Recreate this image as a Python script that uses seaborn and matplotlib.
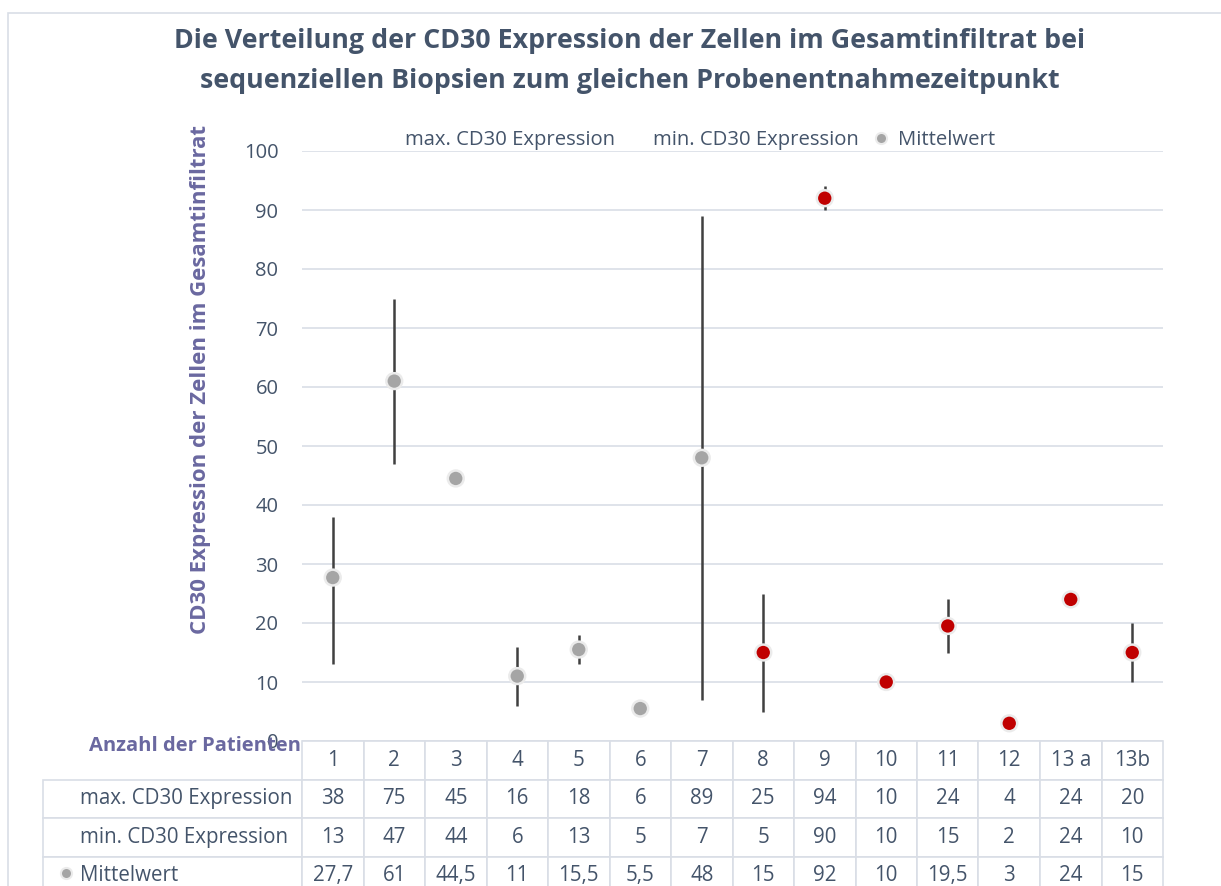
import matplotlib
matplotlib.use('Agg')
import matplotlib.pyplot as plt
import seaborn as sns
import pandas as pd
from matplotlib.lines import Line2D
from matplotlib.patches import Rectangle
from matplotlib.table import Table

# Werte aus der Tabelle unter dem Diagramm
patienten = ['1', '2', '3', '4', '5', '6', '7', '8', '9', '10', '11', '12', '13 a', '13b']
max_cd30 = [38, 75, 45, 16, 18, 6, 89, 25, 94, 10, 24, 4, 24, 20]
min_cd30 = [13, 47, 44, 6, 13, 5, 7, 5, 90, 10, 15, 2, 24, 10]
mittelwert = [27.7, 61, 44.5, 11, 15.5, 5.5, 48, 15, 92, 10, 19.5, 3, 24, 15]
gruppe = ['grau'] * 7 + ['rot'] * 7
zeilen = ['max. CD30 Expression', 'min. CD30 Expression', 'Mittelwert']

textfarbe = '#44546A'
lila = '#6A68A0'
gitter = '#D9DEE6'

sns.set_theme(style='white')
plt.rcParams['font.family'] = ['Open Sans', 'DejaVu Sans']

W, H = 1221, 886
fig = plt.figure(figsize=(W / 100, H / 100), dpi=100)
ax = fig.add_axes([302 / W, 1 - 741 / H, 861 / W, 590 / H])

df = pd.DataFrame({'pos': range(len(patienten)), 'mittel': mittelwert,
                   'max': max_cd30, 'min': min_cd30, 'gruppe': gruppe})

ax.vlines(df['pos'], df['min'], df['max'], color='#404040', lw=1.8, zorder=2)
sns.scatterplot(data=df, x='pos', y='mittel', hue='gruppe',
                palette={'grau': '#A5A5A5', 'rot': '#C00000'},
                s=130, edgecolor='#EBEBEB', linewidth=1.8,
                legend=False, zorder=3, ax=ax)

ax.set_xlim(-0.5, len(patienten) - 0.5)
ax.set_ylim(0, 100)
ax.set_yticks(range(0, 101, 10))
ax.set_xticks([])
ax.set_xlabel('')
ax.yaxis.grid(True, color=gitter, lw=1.2)
ax.set_axisbelow(True)
for s in ax.spines.values():
    s.set_visible(False)
ax.tick_params(axis='y', length=0, pad=17, labelsize=14.5, labelcolor=textfarbe)

ax.set_ylabel('CD30 Expression der Zellen im Gesamtinfiltrat', fontsize=16,
              fontweight='bold', color=lila)
ax.yaxis.set_label_coords(-0.106, 0.612)

fig.suptitle('Die Verteilung der CD30 Expression der Zellen im Gesamtinfiltrat bei\n'
             'sequenziellen Biopsien zum gleichen Probenentnahmezeitpunkt',
             x=0.516, y=1 - 61 / H, va='center', fontsize=19.3,
             fontweight='bold', color=textfarbe, linespacing=1.68)

# Legende oben
handles = [Line2D([], [], linestyle='none'),
           Line2D([], [], linestyle='none'),
           Line2D([], [], linestyle='none', marker='o', markersize=8,
                  markerfacecolor='#A5A5A5', markeredgecolor='#EBEBEB',
                  markeredgewidth=1.5)]
ax.legend(handles, zeilen, loc='center', bbox_to_anchor=(0.4466, 1.0186),
          ncol=3, frameon=False, fontsize=14.6, handlelength=1.0,
          handletextpad=0.3, columnspacing=0.6, labelcolor=textfarbe)

# Datentabelle
def fmt(v):
    return str(v).replace('.', ',')

spalte_b = 1 / len(patienten)
zeile_h = 38.5 / 590
label_b = 259 / 861
tab = Table(ax, bbox=[0, -4 * zeile_h, 1, 4 * zeile_h])
for j, p in enumerate(patienten):
    tab.add_cell(0, j, spalte_b, zeile_h, text=p, loc='center')
for i, reihe in enumerate([max_cd30, min_cd30, mittelwert], start=1):
    tab.add_cell(i, -1, label_b, zeile_h, text=zeilen[i - 1], loc='left')
    for j, v in enumerate(reihe):
        tab.add_cell(i, j, spalte_b, zeile_h, text=fmt(v), loc='center')
tab.auto_set_font_size(False)
tab.set_fontsize(14.8)
for (r, c), cell in tab.get_celld().items():
    cell.set_edgecolor(gitter)
    cell.set_linewidth(1.2)
    cell.get_text().set_color(textfarbe)
    if c == -1:
        cell.PAD = 37 / 259
ax.add_table(tab)

ax.plot([(66 - 302) / 861], [(741 - 873) / 590], marker='o', markersize=8,
        markerfacecolor='#A5A5A5', markeredgecolor='#EBEBEB',
        markeredgewidth=1.5, transform=ax.transAxes, clip_on=False)

ax.text((195 - 302) / 861, (741 - 746) / 590, 'Anzahl der Patienten',
        transform=ax.transAxes, ha='center', va='center', fontsize=14.5,
        fontweight='bold', color=lila)

fig.patches.append(Rectangle((8 / W, -0.1), 1.2, 1.1 - 13 / H,
                             transform=fig.transFigure, fill=False,
                             edgecolor=gitter, lw=1.2))

fig.savefig('out.png', dpi=100)
